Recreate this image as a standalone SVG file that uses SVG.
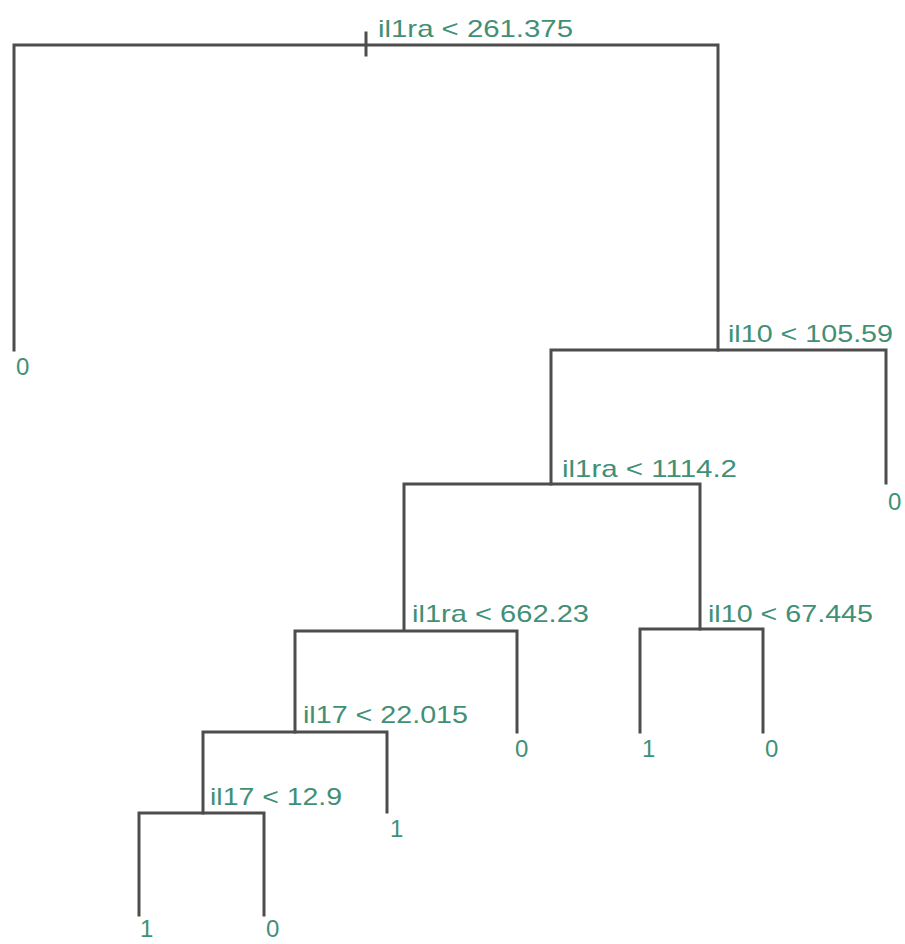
<svg xmlns="http://www.w3.org/2000/svg" width="905" height="944" viewBox="0 0 905 944">
<style>
.e{stroke:#4d4d4d;stroke-width:3;fill:none;stroke-linecap:square}
.t{font-family:"Liberation Sans",Arial,sans-serif;font-size:24px;fill:#3f9077}
</style>
<rect width="905" height="944" fill="#ffffff"/>
<g id="connectors" class="e">
<path d="M14,350V45H718V350"/>
<path d="M366,33V55"/>
<path d="M551,484V350H886V483"/>
<path d="M404,630V484H700V629"/>
<path d="M640,732V629H763V732"/>
<path d="M295,732V631H517V732"/>
<path d="M203,813V732H387V812"/>
<path d="M139,915V813H264V915"/>
</g>
<g id="n1"><text class="t" x="378" y="37" textLength="195" lengthAdjust="spacingAndGlyphs">il1ra &lt; 261.375</text></g>
<g id="n2"><text class="t" x="728" y="342" textLength="165" lengthAdjust="spacingAndGlyphs">il10 &lt; 105.59</text></g>
<g id="n3"><text class="t" x="562" y="477" textLength="175" lengthAdjust="spacingAndGlyphs">il1ra &lt; 1114.2</text></g>
<g id="n4"><text class="t" x="708" y="622" textLength="165" lengthAdjust="spacingAndGlyphs">il10 &lt; 67.445</text></g>
<g id="n5"><text class="t" x="412" y="622" textLength="177" lengthAdjust="spacingAndGlyphs">il1ra &lt; 662.23</text></g>
<g id="n6"><text class="t" x="303" y="723" textLength="165" lengthAdjust="spacingAndGlyphs">il17 &lt; 22.015</text></g>
<g id="n7"><text class="t" x="210" y="805" textLength="132" lengthAdjust="spacingAndGlyphs">il17 &lt; 12.9</text></g>
<g id="leaf1"><text class="t" x="16" y="375">0</text></g>
<g id="leaf2"><text class="t" x="888" y="510">0</text></g>
<g id="leaf3"><text class="t" x="642" y="757">1</text></g>
<g id="leaf4"><text class="t" x="765" y="757">0</text></g>
<g id="leaf5"><text class="t" x="515" y="757">0</text></g>
<g id="leaf6"><text class="t" x="390" y="837">1</text></g>
<g id="leaf7"><text class="t" x="140" y="937">1</text></g>
<g id="leaf8"><text class="t" x="266" y="937">0</text></g>
</svg>
